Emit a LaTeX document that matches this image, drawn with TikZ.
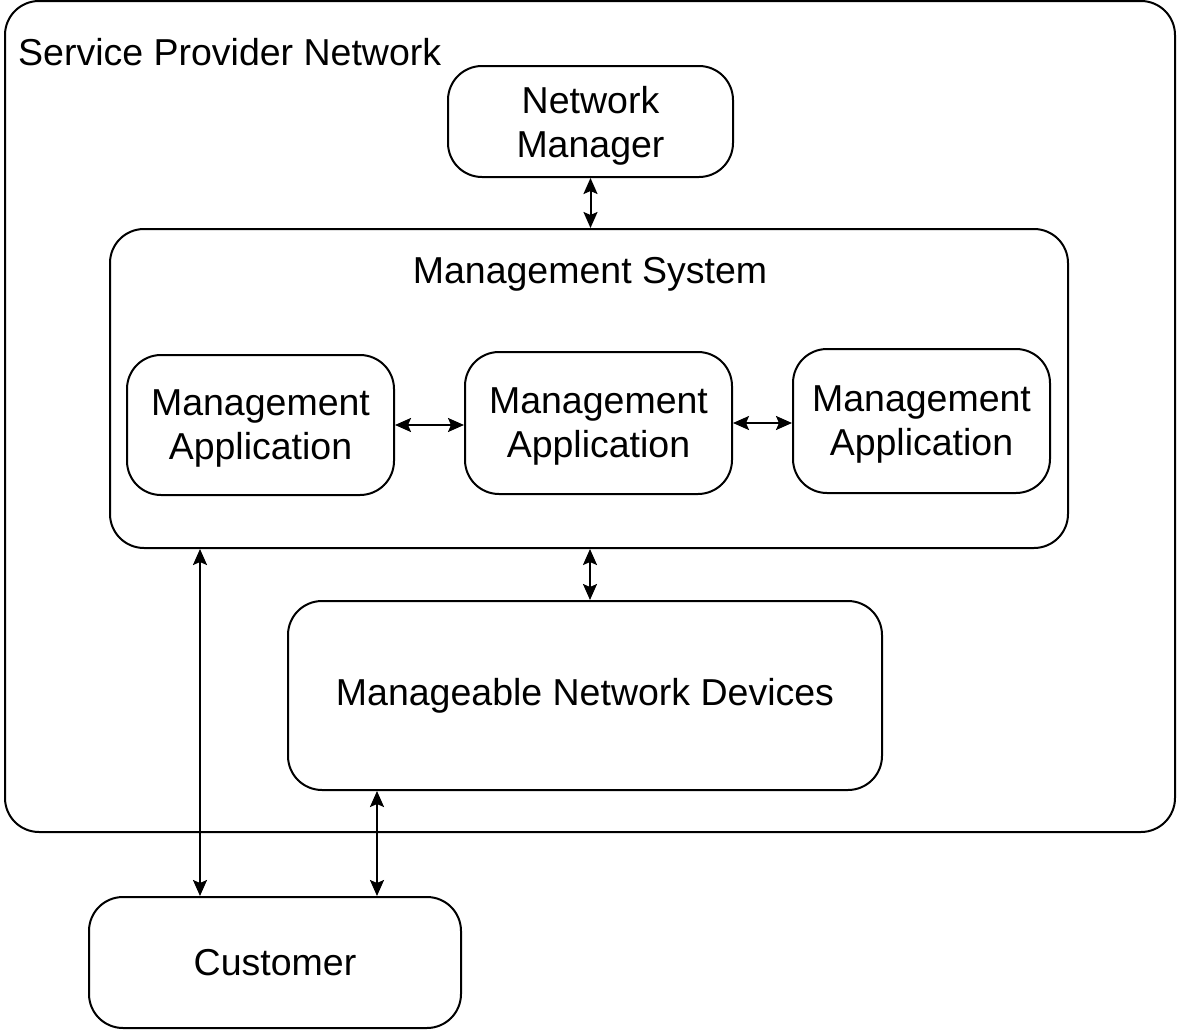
\documentclass[tikz,border=0pt]{standalone}
\usepackage{fontspec}
\setmainfont{Liberation Sans}
\usetikzlibrary{arrows.meta}
\begin{document}
\begin{tikzpicture}[x=1pt,y=-1pt,
  box/.style={draw,line width=2pt,rounded corners=34pt,inner sep=0pt,align=center,
    font=\fontsize{37.5}{44}\selectfont},
  twoline/.style={text depth=0pt},
  lbl/.style={inner sep=0pt,font=\fontsize{37.5}{44}\selectfont},
  conn/.style={line width=2pt,{Stealth[length=16pt,width=14pt,inset=3pt]}-{Stealth[length=16pt,width=14pt,inset=3pt]}}]
\useasboundingbox (0,0) rectangle (1179,1031);
% outer
\node[box,minimum width=1170pt,minimum height=831pt] (spn) at (590,416.5) {};
\node[lbl,anchor=base west] (spnl) at (18,65) {Service Provider Network};
% network manager
\node[box,twoline,minimum width=285pt,minimum height=111pt] (nm) at (590.5,121.5) {Network\\Manager};
% management system
\node[box,minimum width=958pt,minimum height=319pt] (ms) at (589,388.5) {};
\node[lbl] (msl) at (590,274) {Management System};
% applications
\node[box,twoline,minimum width=267pt,minimum height=140pt] (ma1) at (260.5,425) {Management\\Application};
\node[box,twoline,minimum width=267pt,minimum height=142pt] (ma2) at (598.5,423) {Management\\Application};
\node[box,twoline,minimum width=257pt,minimum height=144pt] (ma3) at (921.5,421) {Management\\Application};
% devices
\node[box,minimum width=594pt,minimum height=189pt] (mnd) at (585,695.5) {Manageable Network Devices};
% customer
\node[box,minimum width=372pt,minimum height=131pt] (cust) at (275,962.5) {Customer};
% connectors
\draw[conn] (nm.south) -- (ms.north -| nm.south);
\draw[conn] (ma1.east) -- (ma2.west |- ma1.east);
\draw[conn] (ma2.east) -- (ma3.west |- ma2.east);
\draw[conn] (ms.south -| mnd.north) ++(5,0) coordinate (a1) -- (mnd.north -| a1);
\coordinate (c1) at (200,548);
\draw[conn] (ms.south -| c1) -- (cust.north -| c1);
\coordinate (c2) at (377,790);
\draw[conn] (mnd.south -| c2) -- (cust.north -| c2);
\end{tikzpicture}
\end{document}
